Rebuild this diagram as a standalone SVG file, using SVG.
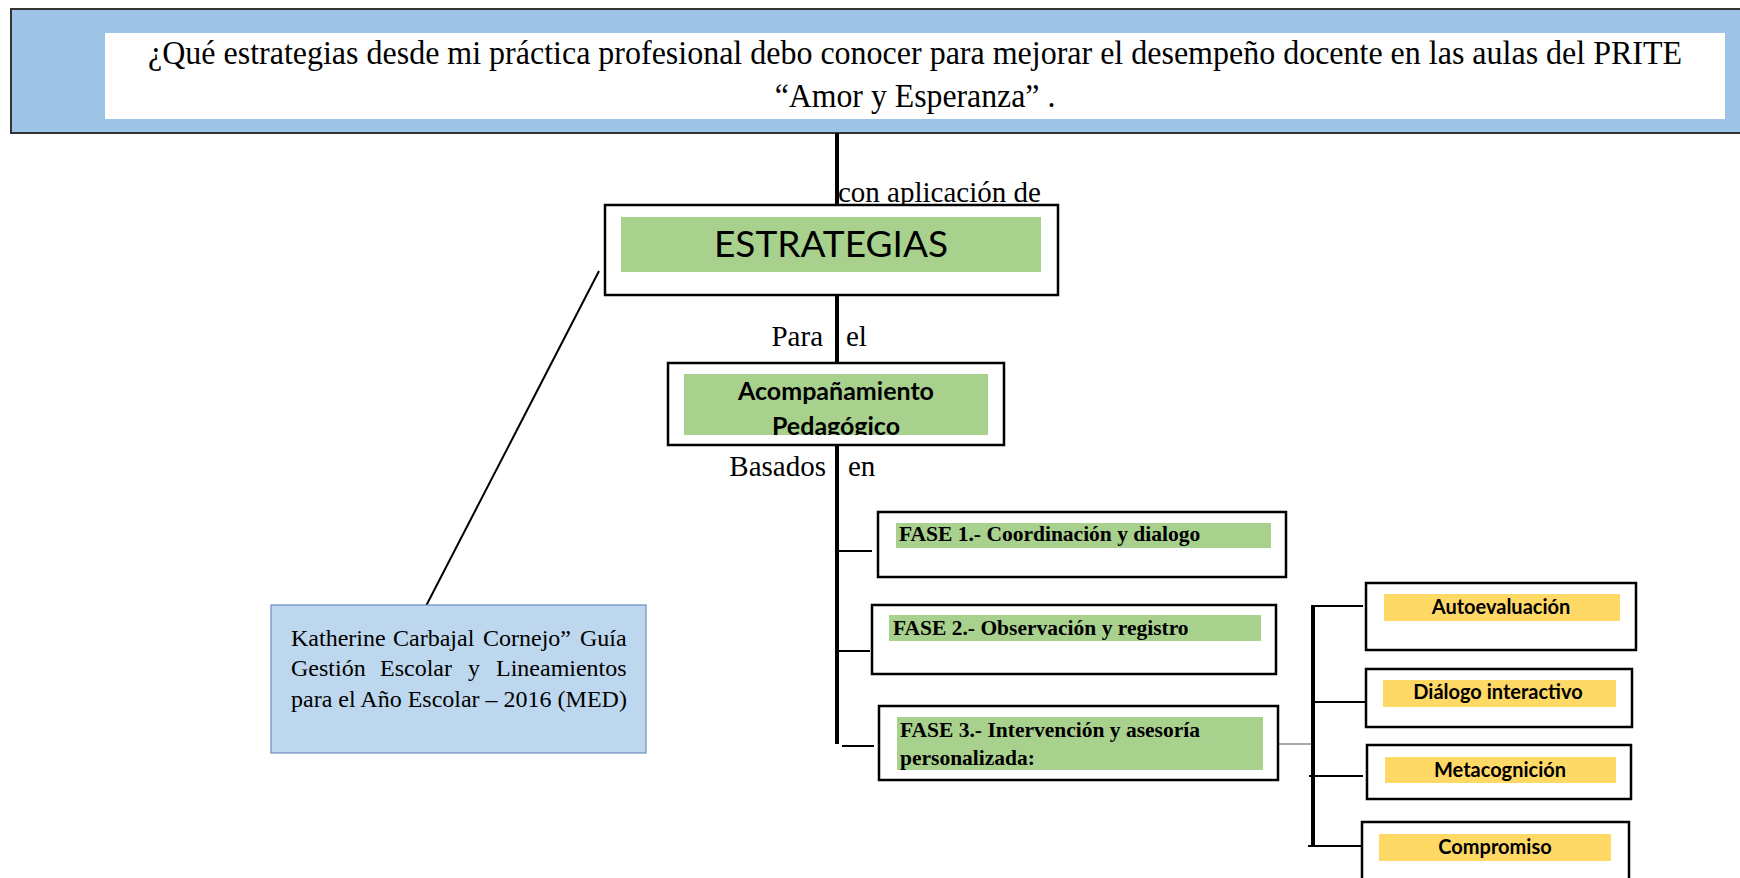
<svg xmlns="http://www.w3.org/2000/svg" width="1740" height="878" viewBox="0 0 1740 878">
<style>
.box{fill:#fff;stroke:#000;stroke-width:2.5}
.green{fill:#A9D18E}
.yellow{fill:#FFD966}
.serif{font-family:"Liberation Serif","Times New Roman",serif;fill:#000}
.sans{font-family:Lato,"Open Sans",sans-serif;fill:#000}
.lbl{font-size:29px}
.fase{font-size:21.5px;font-weight:bold}
.sub{font-size:20px;font-weight:bold;text-anchor:middle}
.thick{stroke:#000;stroke-width:4;fill:none}
.thin{stroke:#000;stroke-width:2;fill:none}
</style>
<defs>
<clipPath id="clipAcomp"><rect x="684" y="374" width="304" height="61"/></clipPath>
</defs>
<rect width="1740" height="878" fill="#fff"/>

<g id="pregunta">
<rect x="11" y="9" width="1740" height="124" fill="#9DC3E6" stroke="#333" stroke-width="2"/>
<rect x="105" y="33" width="1620" height="86" fill="#fff"/>
<text class="serif" transform="translate(915,64) scale(1,1.13)" x="0" y="0" font-size="30" text-anchor="middle" textLength="1534" lengthAdjust="spacingAndGlyphs">¿Qué estrategias desde mi práctica profesional debo conocer para mejorar el desempeño docente en las aulas del PRITE</text>
<text class="serif" transform="translate(915,107) scale(1.06,1.13)" x="0" y="0" font-size="30" text-anchor="middle">“Amor y Esperanza” .</text>
</g>

<g id="connectors">
<line class="thick" x1="837" y1="133" x2="837" y2="205"/>
<line class="thick" x1="837" y1="295" x2="837" y2="363"/>
<line class="thick" x1="837" y1="445" x2="837" y2="744"/>
<line class="thin" x1="838" y1="551" x2="872" y2="551"/>
<line class="thin" x1="838" y1="651" x2="870" y2="651"/>
<line class="thin" x1="842" y1="746" x2="874" y2="746"/>
<line stroke="#555" stroke-width="1.2" x1="1278" y1="744" x2="1313" y2="744"/>
<line class="thick" x1="1313" y1="606" x2="1313" y2="846"/>
<line class="thin" x1="1311" y1="606" x2="1363" y2="606"/>
<line class="thin" x1="1313" y1="702" x2="1368" y2="702"/>
<line class="thin" x1="1309" y1="776" x2="1363" y2="776"/>
<line class="thin" x1="1308" y1="846" x2="1362" y2="846"/>
<line stroke="#000" stroke-width="2" x1="426" y1="606" x2="599" y2="271"/>
<text class="serif lbl" x="838" y="202">con aplicación de</text>
<text class="serif lbl" x="823" y="346" text-anchor="end">Para</text>
<text class="serif lbl" x="846" y="346">el</text>
<text class="serif lbl" x="826" y="476" text-anchor="end">Basados</text>
<text class="serif lbl" x="848" y="476">en</text>
</g>

<g id="estrategias">
<rect class="box" x="605" y="205" width="453" height="90"/>
<rect class="green" x="621" y="217" width="420" height="55"/>
<text class="sans" x="831" y="257" font-size="37" text-anchor="middle">ESTRATEGIAS</text>
</g>

<g id="acompanamiento">
<rect class="box" x="668" y="363" width="336" height="82"/>
<rect class="green" x="684" y="374" width="304" height="61"/>
<g clip-path="url(#clipAcomp)">
<text class="sans" x="836" y="400" font-size="25" font-weight="bold" text-anchor="middle">Acompañamiento</text>
<text class="sans" x="836" y="435" font-size="25" font-weight="bold" text-anchor="middle">Pedagógico</text>
</g>
</g>

<g id="fuente">
<rect x="271" y="605" width="375" height="148" fill="#BDD7EE" stroke="#6C8EBF" stroke-width="1.2"/>
<text class="serif" font-size="24" y="646"><tspan x="291">Katherine</tspan><tspan x="393">Carbajal</tspan><tspan x="483">Cornejo”</tspan><tspan x="580">Guía</tspan></text>
<text class="serif" font-size="24" y="676"><tspan x="291">Gestión</tspan><tspan x="380">Escolar</tspan><tspan x="468">y</tspan><tspan x="496">Lineamientos</tspan></text>
<text class="serif" font-size="24" x="291" y="707">para el Año Escolar – 2016 (MED)</text>
</g>

<g id="fase1">
<rect class="box" x="878" y="512" width="408" height="65"/>
<rect class="green" x="896" y="523" width="375" height="25"/>
<text class="serif fase" x="899" y="541">FASE 1.- Coordinación y dialogo</text>
</g>

<g id="fase2">
<rect class="box" x="872" y="605" width="404" height="69"/>
<rect class="green" x="889" y="615" width="372" height="26"/>
<text class="serif fase" x="893" y="635">FASE 2.- Observación y registro</text>
</g>

<g id="fase3">
<rect class="box" x="879" y="706" width="399" height="74"/>
<rect class="green" x="897" y="717" width="366" height="53"/>
<text class="serif fase" x="900" y="737">FASE 3.- Intervención y asesoría</text>
<text class="serif fase" x="900" y="765">personalizada:</text>
</g>

<g id="autoevaluacion">
<rect class="box" x="1366" y="583" width="270" height="67"/>
<rect class="yellow" x="1384" y="594" width="236" height="27"/>
<text class="sans sub" x="1501" y="614">Autoevaluación</text>
</g>

<g id="dialogo">
<rect class="box" x="1366" y="669" width="266" height="58"/>
<rect class="yellow" x="1383" y="680" width="233" height="27"/>
<text class="sans sub" x="1498" y="699">Diálogo interactivo</text>
</g>

<g id="metacognicion">
<rect class="box" x="1367" y="745" width="264" height="54"/>
<rect class="yellow" x="1385" y="757" width="231" height="26"/>
<text class="sans sub" x="1500" y="777">Metacognición</text>
</g>

<g id="compromiso">
<rect class="box" x="1362" y="822" width="267" height="70"/>
<rect class="yellow" x="1379" y="834" width="232" height="27"/>
<text class="sans sub" x="1495" y="854">Compromiso</text>
</g>
</svg>
